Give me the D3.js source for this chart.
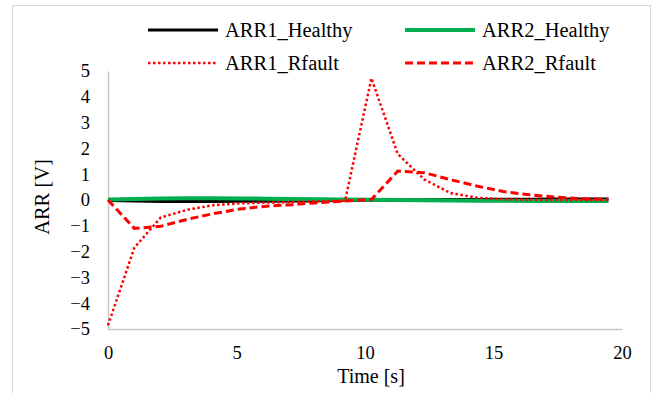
<!DOCTYPE html>
<html>
<head>
<meta charset="utf-8">
<script src="https://cdn.jsdelivr.net/npm/d3@7/dist/d3.min.js"></script>
<style>
  body { margin: 0; background: #fff; }
  text { font-family: "Liberation Serif", "Times New Roman", serif; fill: #000; }
</style>
</head>
<body>
<div id="chart"></div>
<script>
// sample times [s]
const time = [0, 1.025, 2.05, 3.075, 4.1, 5.125, 6.15, 7.175, 8.2, 9.225,
  10.25, 11.275, 12.3, 13.325, 14.35, 15.375, 16.4, 17.425, 18.45, 19.475];

const arr1Healthy = [-0.02, -0.04, -0.06, -0.06, -0.06, -0.05, -0.05, -0.04, -0.03, -0.02,
  -0.01, 0.0, 0.01, 0.02, 0.02, 0.03, 0.03, 0.04, 0.04, 0.04];
const arr2Healthy = [0.02, 0.04, 0.06, 0.07, 0.07, 0.06, 0.05, 0.04, 0.03, 0.02,
  0.01, 0.0, -0.01, -0.02, -0.03, -0.03, -0.04, -0.04, -0.04, -0.04];
const arr1Rfault = [-4.86, -1.85, -0.68, -0.38, -0.2, -0.13, -0.1, -0.08, -0.05, -0.03,
  4.72, 1.78, 0.8, 0.27, 0.09, 0.03, 0.01, 0.0, 0.0, 0.0];
const arr2Rfault = [0, -1.1, -1.02, -0.75, -0.53, -0.35, -0.24, -0.18, -0.1, -0.04,
  0.02, 1.12, 1.06, 0.79, 0.54, 0.33, 0.2, 0.11, 0.05, 0.02];

const xTicks = [0, 5, 10, 15, 20];
const yTicks = [-5, -4, -3, -2, -1, 0, 1, 2, 3, 4, 5];

const series = [
  { name: 'ARR1_Healthy', values: arr1Healthy, color: '#000000', width: 3, dash: null },
  { name: 'ARR2_Healthy', values: arr2Healthy, color: '#00b050', width: 4, dash: null },
  { name: 'ARR1_Rfault', values: arr1Rfault, color: '#ff0000', width: 2.5, dash: '2.5,2.5' },
  { name: 'ARR2_Rfault', values: arr2Rfault, color: '#ff0000', width: 3, dash: '8,4' }
];

const width = 662, height = 393;
const margin = {top: 71, right: 40, bottom: 64, left: 108};

const svg = d3.select('#chart').append('svg')
  .attr('width', width)
  .attr('height', height);

// chart frame
svg.append('rect')
  .attr('x', 12.5).attr('y', 5.5)
  .attr('width', 638).attr('height', 400)
  .attr('fill', 'none')
  .attr('stroke', '#d9d9d9');

const x = d3.scaleLinear().domain([0, 20]).range([margin.left, width - margin.right]);
const y = d3.scaleLinear().domain([-5, 5]).range([height - margin.bottom, margin.top]);

// axes
const xAxis = svg.append('g')
  .attr('transform', 'translate(0,' + y(-5) + ')')
  .call(d3.axisBottom(x).tickValues(xTicks).tickSize(0).tickPadding(17));
const yAxis = svg.append('g')
  .attr('transform', 'translate(' + x(0) + ',0)')
  .call(d3.axisLeft(y).tickValues(yTicks).tickSize(0).tickPadding(18));

[xAxis, yAxis].forEach(a => {
  a.select('.domain').attr('stroke', '#c8c8c8').attr('stroke-width', 1.5);
  a.selectAll('text').style('font-size', '18.5px')
    .style('font-family', '"Liberation Serif", serif').attr('fill', '#000');
});

svg.append('text')
  .attr('x', 371)
  .attr('y', 383)
  .attr('text-anchor', 'middle')
  .style('font-size', '20px')
  .text('Time [s]');

svg.append('text')
  .attr('transform', 'translate(49,197) rotate(-90)')
  .attr('text-anchor', 'middle')
  .style('font-size', '20.5px')
  .text('ARR [V]');

// lines
const line = d3.line()
  .x((d, i) => x(time[i]))
  .y(d => y(d));

series.forEach(s => {
  svg.append('path')
    .datum(s.values)
    .attr('d', line)
    .attr('fill', 'none')
    .attr('stroke', s.color)
    .attr('stroke-width', s.width)
    .attr('stroke-dasharray', s.dash);
});

// legend
const legendPos = [[148, 30], [405, 30], [148, 63], [405, 63]];
series.forEach((s, i) => {
  const [lx, ly] = legendPos[i];
  const g = svg.append('g').attr('transform', 'translate(' + lx + ',' + ly + ')');
  g.append('line')
    .attr('x1', 0).attr('x2', 70)
    .attr('stroke', s.color)
    .attr('stroke-width', s.width)
    .attr('stroke-dasharray', s.dash);
  g.append('text')
    .attr('x', 77).attr('y', 7)
    .style('font-size', '20.5px')
    .text(s.name);
});
</script>
</body>
</html>
